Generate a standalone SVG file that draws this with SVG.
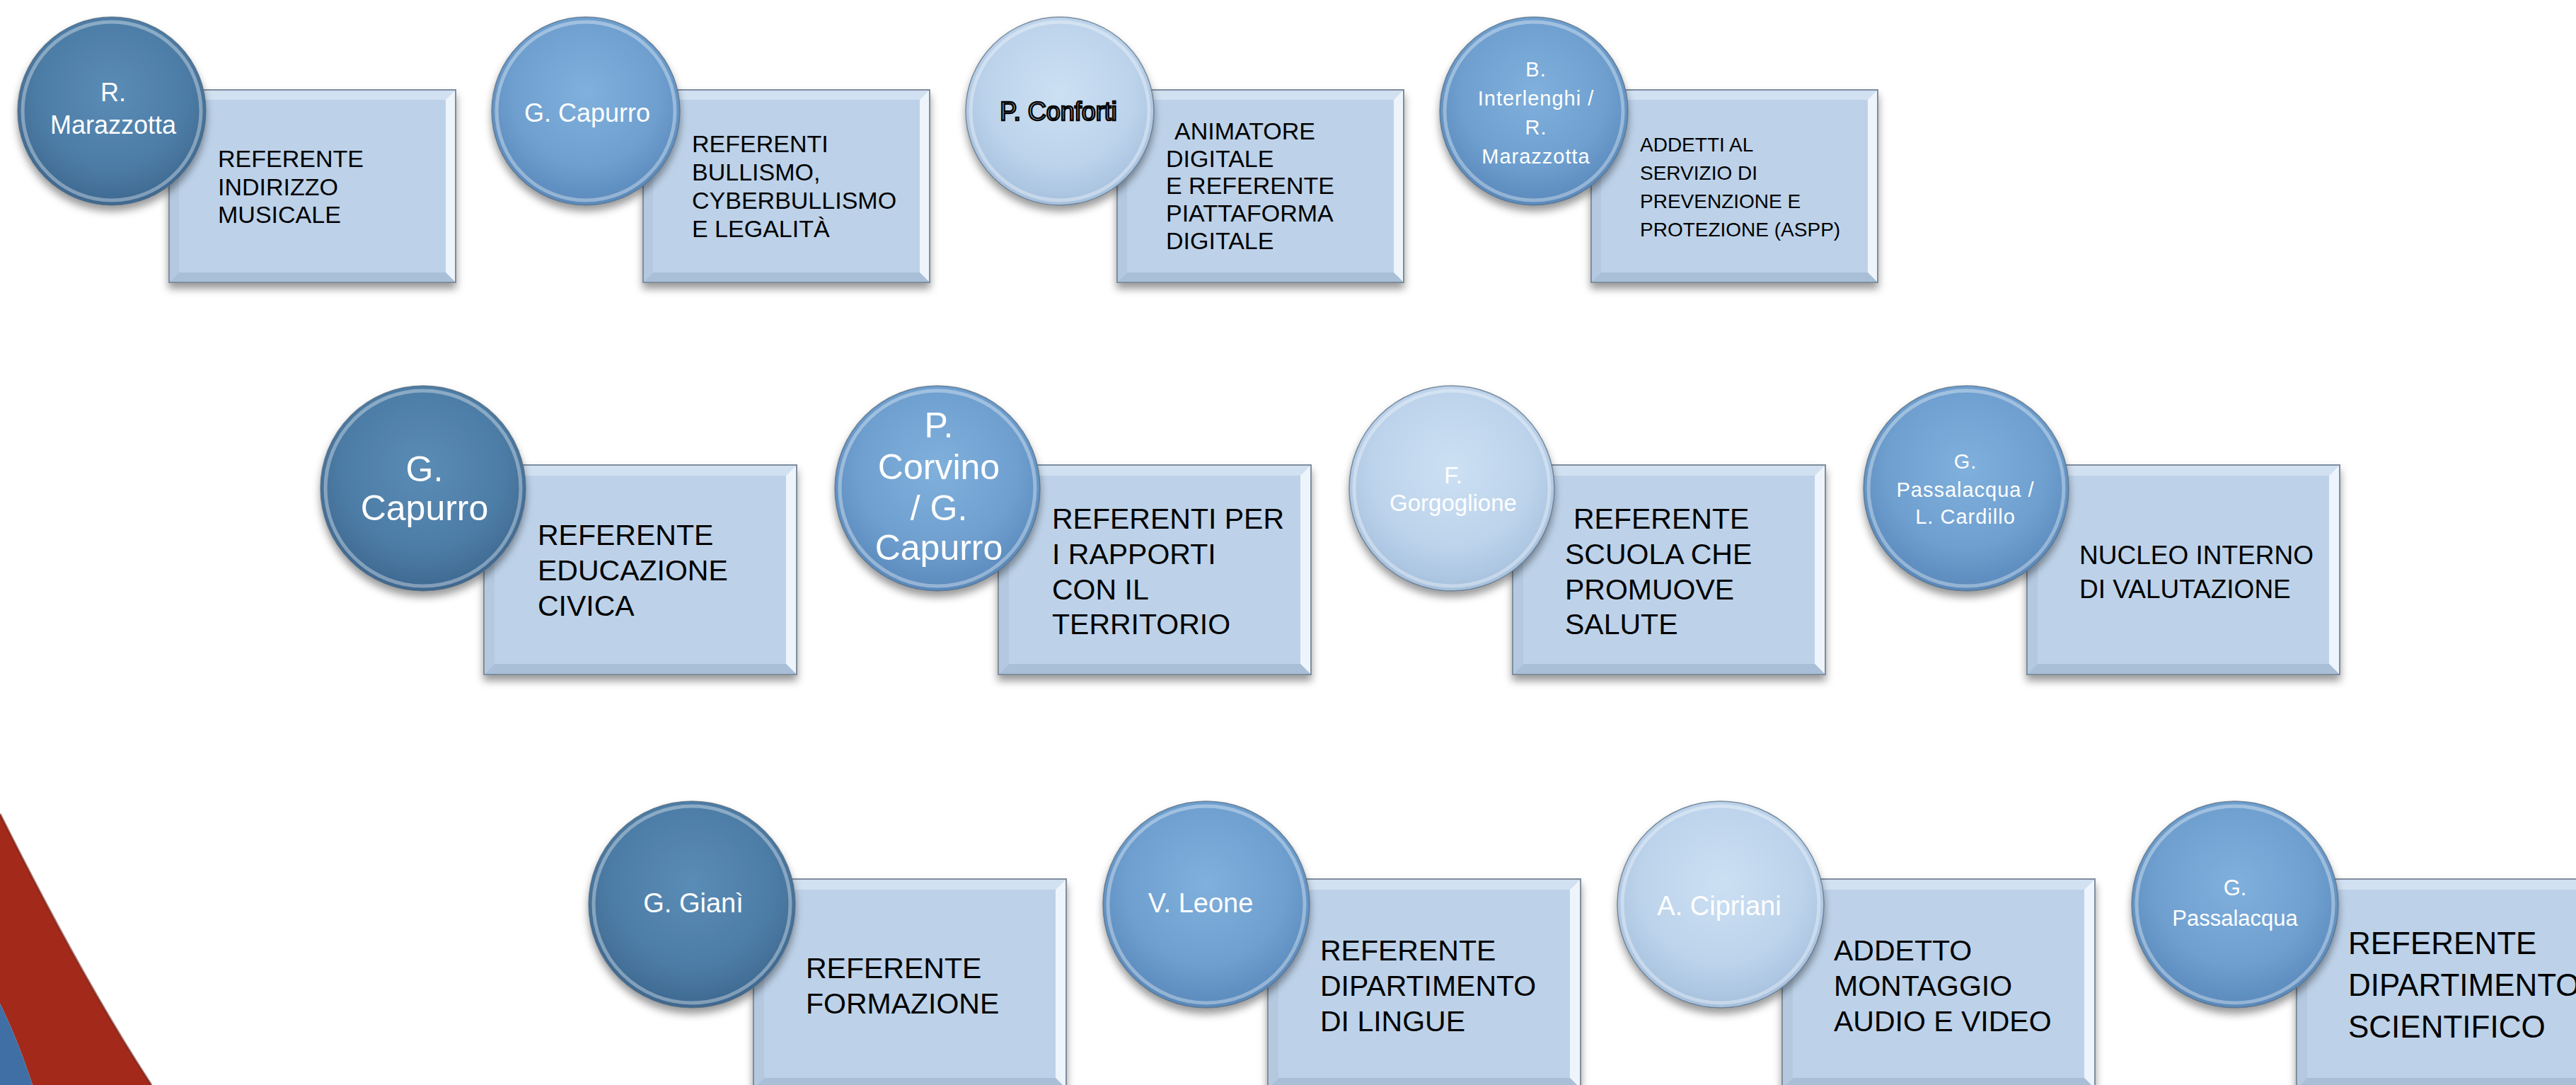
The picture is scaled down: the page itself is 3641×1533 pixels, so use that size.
<svg xmlns="http://www.w3.org/2000/svg" xmlns:xlink="http://www.w3.org/1999/xlink" width="3641" height="1533" viewBox="0 0 3641 1533">
<defs>
<style>
.cap{font-family:"Liberation Sans",Arial,sans-serif;fill:#ffffff;text-anchor:middle}
.lbl{font-family:"Liberation Sans",Arial,sans-serif;fill:#000000}
.f34{font-size:34px}.f28{font-size:28px}.f41{font-size:41px}.f37{font-size:37px}.f44{font-size:44px}
.c50{font-size:50px}.c36{font-size:36px}.c38{font-size:38px}.c33{font-size:33px}.c31{font-size:31px}.c28{font-size:29px;letter-spacing:1px}
.dark{fill:url(#gDark)}.mid{fill:url(#gMid)}.light{fill:url(#gLight)}
.ball{stroke:#56697c;stroke-width:1.5;stroke-opacity:0.7;filter:url(#sh)}
.rim{fill:none;stroke:#ffffff;stroke-opacity:0.35;stroke-width:5}
.box{filter:url(#sh)}
.outline{stroke:#000000;stroke-width:2.4}
</style>
<filter id="sh" x="-15%" y="-15%" width="130%" height="140%">
<feDropShadow dx="0" dy="8" stdDeviation="6" flood-color="#000000" flood-opacity="0.4"/>
</filter>
<radialGradient id="gDark" cx="50%" cy="40%" r="60%">
<stop offset="0" stop-color="#5a8cb6"/><stop offset="0.65" stop-color="#4d7da6"/><stop offset="1" stop-color="#3e6890"/>
</radialGradient>
<radialGradient id="gMid" cx="50%" cy="40%" r="60%">
<stop offset="0" stop-color="#80b0dc"/><stop offset="0.65" stop-color="#6e9fcf"/><stop offset="1" stop-color="#5a89bb"/>
</radialGradient>
<radialGradient id="gLight" cx="50%" cy="40%" r="60%">
<stop offset="0" stop-color="#cce0f3"/><stop offset="0.65" stop-color="#bcd3eb"/><stop offset="1" stop-color="#a6c0dd"/>
</radialGradient>
<g id="boxS">
<rect x="0" y="0" width="405" height="272" fill="#bdd2e9" stroke="#808e9e" stroke-width="2"/>
<polygon points="0,0 405,0 391,14 14,14" fill="#d2e1f1"/>
<polygon points="405,0 405,272 391,258 391,14" fill="#eef4fb"/>
<polygon points="0,272 405,272 391,258 14,258" fill="#a9bfd8"/>
<polygon points="0,0 14,14 14,258 0,272" fill="#b4c9e0"/>
<rect x="0" y="0" width="405" height="272" fill="none" stroke="#808e9e" stroke-width="2"/>
</g>
<g id="boxL">
<rect x="0" y="0" width="442" height="296" fill="#bdd2e9" stroke="#808e9e" stroke-width="2"/>
<polygon points="0,0 442,0 427,15 15,15" fill="#d2e1f1"/>
<polygon points="442,0 442,296 427,281 427,15" fill="#eef4fb"/>
<polygon points="0,296 442,296 427,281 15,281" fill="#a9bfd8"/>
<polygon points="0,0 15,15 15,281 0,296" fill="#b4c9e0"/>
<rect x="0" y="0" width="442" height="296" fill="none" stroke="#808e9e" stroke-width="2"/>
</g>
</defs>
<rect x="0" y="0" width="3641" height="1533" fill="#ffffff"/>

<g id="swoosh">
<path d="M0,1150 C70,1290 140,1420 214,1533 L46,1533 C32,1490 16,1450 0,1418 Z" fill="#a32a1b"/>
<path d="M0,1150 C70,1290 140,1420 214,1533" fill="none" stroke="#6e1c12" stroke-width="3" stroke-opacity="0.6"/>
<path d="M0,1418 C16,1450 32,1490 46,1533 L0,1533 Z" fill="#3f6fa5"/>
</g>

<g id="connectors"/>

<!-- Row 1 -->
<g id="node-indirizzo-musicale">
<use href="#boxS" x="239" y="127" class="box"/>
<text class="lbl f34"><tspan x="308" y="236">REFERENTE</tspan><tspan x="308" y="276">INDIRIZZO</tspan><tspan x="308" y="315">MUSICALE</tspan></text>
<circle class="ball dark" cx="158" cy="157" r="133"/><circle class="rim" cx="158" cy="157" r="126"/>
<text class="cap c36"><tspan x="160" y="143">R.</tspan><tspan x="160" y="189">Marazzotta</tspan></text>
</g>

<g id="node-bullismo">
<use href="#boxS" x="909" y="127" class="box"/>
<text class="lbl f34"><tspan x="978" y="215">REFERENTI</tspan><tspan x="978" y="255">BULLISMO,</tspan><tspan x="978" y="295">CYBERBULLISMO</tspan><tspan x="978" y="335">E LEGALITÀ</tspan></text>
<circle class="ball mid" cx="828" cy="157" r="133"/><circle class="rim" cx="828" cy="157" r="126"/>
<text class="cap c36"><tspan x="830" y="172">G. Capurro</tspan></text>
</g>

<g id="node-animatore-digitale">
<use href="#boxS" x="1579" y="127" class="box"/>
<text class="lbl f34"><tspan x="1660" y="197">ANIMATORE</tspan><tspan x="1648" y="236">DIGITALE</tspan><tspan x="1648" y="274">E REFERENTE</tspan><tspan x="1648" y="313">PIATTAFORMA</tspan><tspan x="1648" y="352">DIGITALE</tspan></text>
<circle class="ball light" cx="1498" cy="157" r="133"/><circle class="rim" cx="1498" cy="157" r="126" stroke-opacity="0.6"/>
<text class="cap c36 outline" style="fill:#d3e2f1"><tspan x="1496" y="170">P. Conforti</tspan></text>
</g>

<g id="node-aspp">
<use href="#boxS" x="2249" y="127" class="box"/>
<text class="lbl f28"><tspan x="2318" y="214">ADDETTI AL</tspan><tspan x="2318" y="254">SERVIZIO DI</tspan><tspan x="2318" y="294">PREVENZIONE E</tspan><tspan x="2318" y="334">PROTEZIONE (ASPP)</tspan></text>
<circle class="ball mid" cx="2168" cy="157" r="133"/><circle class="rim" cx="2168" cy="157" r="126"/>
<text class="cap c28"><tspan x="2171" y="108">B.</tspan><tspan x="2171" y="149">Interlenghi /</tspan><tspan x="2171" y="190">R.</tspan><tspan x="2171" y="231">Marazzotta</tspan></text>
</g>

<!-- Row 2 -->
<g id="node-educazione-civica">
<use href="#boxL" x="684" y="657" class="box"/>
<text class="lbl f41"><tspan x="760" y="770">REFERENTE</tspan><tspan x="760" y="820">EDUCAZIONE</tspan><tspan x="760" y="870">CIVICA</tspan></text>
<circle class="ball dark" cx="598" cy="690" r="145"/><circle class="rim" cx="598" cy="690" r="138"/>
<text class="cap c50"><tspan x="600" y="680">G.</tspan><tspan x="600" y="735">Capurro</tspan></text>
</g>

<g id="node-territorio">
<use href="#boxL" x="1411" y="657" class="box"/>
<text class="lbl f41"><tspan x="1487" y="747">REFERENTI PER</tspan><tspan x="1487" y="797">I RAPPORTI</tspan><tspan x="1487" y="847">CON IL</tspan><tspan x="1487" y="896">TERRITORIO</tspan></text>
<circle class="ball mid" cx="1325" cy="690" r="145"/><circle class="rim" cx="1325" cy="690" r="138"/>
<text class="cap c50"><tspan x="1327" y="618">P.</tspan><tspan x="1327" y="677">Corvino</tspan><tspan x="1327" y="735">/ G.</tspan><tspan x="1327" y="791">Capurro</tspan></text>
</g>

<g id="node-salute">
<use href="#boxL" x="2138" y="657" class="box"/>
<text class="lbl f41"><tspan x="2224" y="747">REFERENTE</tspan><tspan x="2212" y="797">SCUOLA CHE</tspan><tspan x="2212" y="847">PROMUOVE</tspan><tspan x="2212" y="896">SALUTE</tspan></text>
<circle class="ball light" cx="2052" cy="690" r="145"/><circle class="rim" cx="2052" cy="690" r="138" stroke-opacity="0.6"/>
<text class="cap c33"><tspan x="2054" y="683">F.</tspan><tspan x="2054" y="722">Gorgoglione</tspan></text>
</g>

<g id="node-valutazione">
<use href="#boxL" x="2865" y="657" class="box"/>
<text class="lbl f37"><tspan x="2939" y="797">NUCLEO INTERNO</tspan><tspan x="2939" y="845">DI VALUTAZIONE</tspan></text>
<circle class="ball mid" cx="2779" cy="690" r="145"/><circle class="rim" cx="2779" cy="690" r="138"/>
<text class="cap c28"><tspan x="2778" y="662">G.</tspan><tspan x="2778" y="702">Passalacqua /</tspan><tspan x="2778" y="740">L. Cardillo</tspan></text>
</g>

<!-- Row 3 -->
<g id="node-formazione">
<use href="#boxL" x="1065" y="1242" class="box"/>
<text class="lbl f41"><tspan x="1139" y="1382">REFERENTE</tspan><tspan x="1139" y="1432">FORMAZIONE</tspan></text>
<circle class="ball dark" cx="978" cy="1278" r="146"/><circle class="rim" cx="978" cy="1278" r="139"/>
<text class="cap c38"><tspan x="980" y="1289">G. Gianì</tspan></text>
</g>

<g id="node-lingue">
<use href="#boxL" x="1792" y="1242" class="box"/>
<text class="lbl f41"><tspan x="1866" y="1357">REFERENTE</tspan><tspan x="1866" y="1407">DIPARTIMENTO</tspan><tspan x="1866" y="1457">DI LINGUE</tspan></text>
<circle class="ball mid" cx="1705" cy="1278" r="146"/><circle class="rim" cx="1705" cy="1278" r="139"/>
<text class="cap c38"><tspan x="1697" y="1289">V. Leone</tspan></text>
</g>

<g id="node-montaggio">
<use href="#boxL" x="2519" y="1242" class="box"/>
<text class="lbl f41"><tspan x="2592" y="1357">ADDETTO</tspan><tspan x="2592" y="1407">MONTAGGIO</tspan><tspan x="2592" y="1457">AUDIO E VIDEO</tspan></text>
<circle class="ball light" cx="2432" cy="1278" r="146"/><circle class="rim" cx="2432" cy="1278" r="139" stroke-opacity="0.6"/>
<text class="cap c38"><tspan x="2430" y="1293">A. Cipriani</tspan></text>
</g>

<g id="node-scientifico">
<use href="#boxL" x="3246" y="1242" class="box"/>
<text class="lbl f44"><tspan x="3319" y="1348">REFERENTE</tspan><tspan x="3319" y="1407">DIPARTIMENTO</tspan><tspan x="3319" y="1466">SCIENTIFICO</tspan></text>
<circle class="ball mid" cx="3159" cy="1278" r="146"/><circle class="rim" cx="3159" cy="1278" r="139"/>
<text class="cap c31"><tspan x="3159" y="1265">G.</tspan><tspan x="3159" y="1308">Passalacqua</tspan></text>
</g>
</svg>
